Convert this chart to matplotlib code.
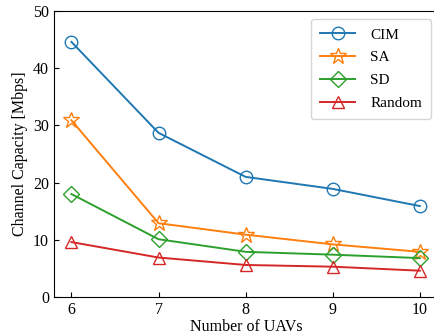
import matplotlib
matplotlib.use('Agg')
import matplotlib.pyplot as plt

uavs = [6, 7, 8, 9, 10]
cim = [44.6, 28.7, 21.0, 18.9, 15.9]
sa = [30.9, 12.9, 10.9, 9.2, 7.9]
sd = [18.0, 10.1, 7.9, 7.4, 6.8]
rnd = [9.6, 6.9, 5.6, 5.3, 4.6]

plt.rcParams['font.family'] = 'Liberation Serif'
plt.rcParams['font.size'] = 10.5

fig = plt.figure(figsize=(4.34, 3.36), dpi=100)
ax = fig.add_axes([54 / 434, 39 / 336, 385 / 434, 286 / 336])

lw = 1.4
ax.plot(uavs, cim, '-o', color='tab:blue', label='CIM', markersize=9,
        markerfacecolor='none', linewidth=lw, markeredgewidth=1.0)
ax.plot(uavs, sa, '-*', color='tab:orange', label='SA', markersize=12,
        markerfacecolor='none', linewidth=lw, markeredgewidth=1.0)
ax.plot(uavs, sd, '-D', color='tab:green', label='SD', markersize=8,
        markerfacecolor='none', linewidth=lw, markeredgewidth=1.0)
ax.plot(uavs, rnd, '-^', color='tab:red', label='Random', markersize=9,
        markerfacecolor='none', linewidth=lw, markeredgewidth=1.0)

ax.set_xlim(5.8, 10.22)
ax.set_ylim(0, 50)
ax.set_xticks(uavs)
ax.set_yticks([0, 10, 20, 30, 40, 50])
ax.tick_params(direction='in', labelsize=11.5)
ax.set_xlabel('Number of UAVs', fontsize=11.5, labelpad=1)
ax.set_ylabel('Channel Capacity [Mbps]', fontsize=11.5)
ax.legend(loc='upper right', fontsize=11, handlelength=2.3, borderpad=0.6,
          labelspacing=0.6, handletextpad=1.0)

fig.savefig('out.png', dpi=100)
